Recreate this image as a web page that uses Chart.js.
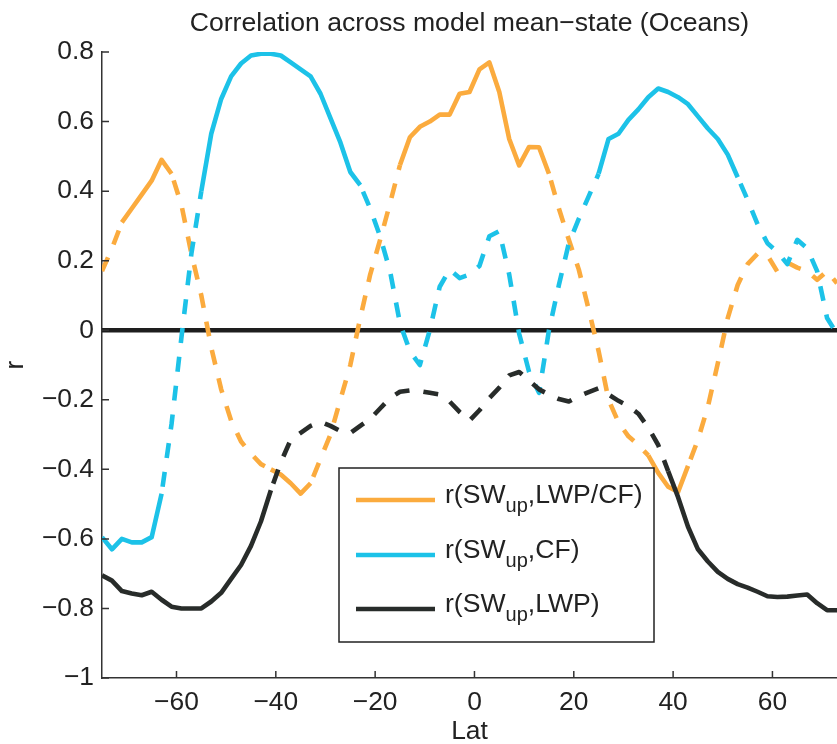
<!DOCTYPE html>
<html>
<head>
<meta charset="utf-8">
<title>Correlation across model mean-state (Oceans)</title>
<script src="https://cdn.jsdelivr.net/npm/chart.js@4.4.1/dist/chart.umd.min.js"></script>
<style>
  html, body { margin: 0; padding: 0; background: #fff; overflow: hidden; }
  #chart { display: block; }
</style>
</head>
<body>
<canvas id="chart" width="837" height="744"></canvas>
<script>
/* ===================== DATEN ===================== */

// Breitengrade (2°-Raster)
const lat = [-75, -73, -71, -69, -67, -65, -63, -61, -59, -57, -55, -53, -51, -49, -47, -45,
  -43, -41, -39, -37, -35, -33, -31, -29, -27, -25, -23, -21, -19, -17, -15, -13, -11, -9, -7,
  -5, -3, -1, 1, 3, 5, 7, 9, 11, 13, 15, 17, 19, 21, 23, 25, 27, 29, 31, 33, 35, 37, 39, 41,
  43, 45, 47, 49, 51, 53, 55, 57, 59, 61, 63, 65, 67, 69, 71, 73, 75];

// r(SWup, LWP/CF)
const rLwpCf = [0.17, 0.235, 0.31, 0.35, 0.39, 0.43, 0.49, 0.45, 0.36, 0.22, 0.10, -0.05,
  -0.17, -0.26, -0.32, -0.355, -0.385, -0.40, -0.415, -0.44, -0.47, -0.44, -0.37, -0.30,
  -0.20, -0.10, 0.035, 0.16, 0.26, 0.365, 0.475, 0.555, 0.585, 0.60, 0.62, 0.62, 0.68, 0.685,
  0.75, 0.77, 0.685, 0.55, 0.474, 0.527, 0.526, 0.45, 0.35, 0.26, 0.175, 0.06, -0.06, -0.20,
  -0.265, -0.305, -0.33, -0.36, -0.41, -0.45, -0.465, -0.39, -0.315, -0.22, -0.095, 0.035,
  0.13, 0.19, 0.22, 0.215, 0.168, 0.195, 0.18, 0.17, 0.145, 0.17, 0.135, 0.12];

// r(SWup, CF)
const rCf = [-0.595, -0.63, -0.60, -0.61, -0.61, -0.595, -0.47, -0.27, -0.02, 0.22, 0.40,
  0.565, 0.665, 0.73, 0.767, 0.79, 0.795, 0.795, 0.79, 0.77, 0.75, 0.73, 0.68, 0.61, 0.54,
  0.455, 0.417, 0.35, 0.27, 0.17, 0.02, -0.06, -0.10, 0.0, 0.125, 0.175, 0.15, 0.16, 0.185,
  0.27, 0.285, 0.16, -0.01, -0.12, -0.18, 0.0, 0.13, 0.25, 0.32, 0.385, 0.45, 0.55, 0.565,
  0.605, 0.635, 0.67, 0.695, 0.685, 0.67, 0.65, 0.615, 0.58, 0.55, 0.505, 0.44, 0.375, 0.305,
  0.25, 0.225, 0.19, 0.26, 0.235, 0.17, 0.035, -0.01, -0.04];

// r(SWup, LWP)
const rLwp = [-0.705, -0.72, -0.75, -0.757, -0.762, -0.752, -0.775, -0.795, -0.80, -0.80,
  -0.80, -0.78, -0.755, -0.715, -0.675, -0.62, -0.55, -0.46, -0.38, -0.315, -0.295, -0.275,
  -0.263, -0.275, -0.29, -0.296, -0.275, -0.255, -0.225, -0.195, -0.177, -0.173, -0.175,
  -0.18, -0.185, -0.205, -0.235, -0.26, -0.23, -0.195, -0.165, -0.13, -0.12, -0.145, -0.17,
  -0.185, -0.198, -0.205, -0.19, -0.178, -0.167, -0.185, -0.203, -0.218, -0.24, -0.28, -0.33,
  -0.405, -0.48, -0.565, -0.63, -0.665, -0.695, -0.715, -0.73, -0.74, -0.752, -0.765, -0.767,
  -0.766, -0.763, -0.76, -0.785, -0.805, -0.805, -0.805];

// Lat-Bereiche mit signifikanter Korrelation -> durchgezogen, sonst gestrichelt
const solidLwpCf = [[-71, -61], [-41, -33], [-15, 15], [35, 43]];
const solidCf = [[-75, -63], [-55, -23], [25, 53]];
const solidLwp = [[-75, -41], [39, 75]];

// Achsenbeschriftungen
const xTicks = [-60, -40, -20, 0, 20, 40, 60];
const xTickLabels = ['\u221260', '\u221240', '\u221220', '0', '20', '40', '60'];
const yTicks = [-1, -0.8, -0.6, -0.4, -0.2, 0, 0.2, 0.4, 0.6, 0.8];
const yTickLabels = ['\u22121', '\u22120.8', '\u22120.6', '\u22120.4', '\u22120.2', '0', '0.2', '0.4', '0.6', '0.8'];

// Legende: [Text, Index (tiefgestellt), Rest]
const legendLabels = [
  ['r(SW', 'up', ',LWP/CF)'],
  ['r(SW', 'up', ',CF)'],
  ['r(SW', 'up', ',LWP)']
];

/* ===================== STIL ===================== */
const FONT = '"Liberation Sans", Arial, Helvetica, sans-serif';
const TEXT = '#222';
const ORANGE = '#FBAB3E';
const CYAN = '#1CC2E8';
const DARK = '#282C2A';
const DASH = [15, 14];
const LW = 4.6;

// prüft, ob ein Segment komplett in einem "signifikanten" Bereich liegt
function inSolid(ranges, a, b) {
  return ranges.some(([lo, hi]) => a >= lo && b <= hi);
}

// Segment-Stil: gestrichelt ausserhalb der Bereiche, nach durchgezogenem Stück mit Lücke beginnen
function segmentStyle(ranges) {
  return {
    borderDash: ctx => inSolid(ranges, ctx.p0.parsed.x, ctx.p1.parsed.x) ? [] : DASH,
    borderDashOffset: ctx => {
      const x0 = ctx.p0.parsed.x;
      if (inSolid(ranges, x0, ctx.p1.parsed.x)) return 0;
      const afterSolid = ranges.some(([lo, hi]) => hi <= x0);
      return afterSolid ? DASH[0] + 7 : 0;
    }
  };
}

function toPoints(values) {
  return lat.map((x, i) => ({ x: x, y: values[i] }));
}

// Innenliegende Tickmarken + Legende (wie MATLAB)
const matlabDeko = {
  id: 'matlabDeko',
  afterDraw(chart) {
    const { ctx, chartArea: a, scales: { x, y } } = chart;
    ctx.save();

    // Tickmarken
    ctx.strokeStyle = '#333';
    ctx.lineWidth = 1.5;
    ctx.beginPath();
    yTicks.forEach(v => {
      const py = y.getPixelForValue(v);
      ctx.moveTo(a.left, py);
      ctx.lineTo(a.left + 7, py);
    });
    xTicks.forEach(v => {
      const px = x.getPixelForValue(v);
      ctx.moveTo(px, a.bottom);
      ctx.lineTo(px, a.bottom - 7);
    });
    ctx.stroke();

    // Legende
    const box = { left: 339, top: 468, width: 315, height: 174 };
    ctx.fillStyle = '#fff';
    ctx.fillRect(box.left, box.top, box.width, box.height);
    ctx.strokeStyle = '#222';
    ctx.lineWidth = 1.5;
    ctx.strokeRect(box.left, box.top, box.width, box.height);

    const colors = [ORANGE, CYAN, DARK];
    const rows = [500, 555, 609];
    legendLabels.forEach((parts, i) => {
      const yy = rows[i];
      ctx.strokeStyle = colors[i];
      ctx.lineWidth = LW;
      ctx.beginPath();
      ctx.moveTo(356, yy);
      ctx.lineTo(435, yy);
      ctx.stroke();

      ctx.fillStyle = TEXT;
      ctx.textBaseline = 'alphabetic';
      ctx.textAlign = 'left';
      let tx = 445;
      ctx.font = '26.6px ' + FONT;
      ctx.fillText(parts[0], tx, yy + 3);
      tx += ctx.measureText(parts[0]).width;
      ctx.font = '20px ' + FONT;
      ctx.fillText(parts[1], tx, yy + 12);
      tx += ctx.measureText(parts[1]).width;
      ctx.font = '26.6px ' + FONT;
      ctx.fillText(parts[2], tx, yy + 3);
    });

    ctx.restore();
  }
};

/* ===================== CHART ===================== */
new Chart(document.getElementById('chart').getContext('2d'), {
  type: 'line',
  data: {
    datasets: [
      {
        label: 'r(SWup,LWP)',
        data: toPoints(rLwp),
        borderColor: DARK,
        borderWidth: LW,
        segment: segmentStyle(solidLwp)
      },
      {
        label: 'r(SWup,CF)',
        data: toPoints(rCf),
        borderColor: CYAN,
        borderWidth: LW,
        segment: segmentStyle(solidCf)
      },
      {
        label: 'r(SWup,LWP/CF)',
        data: toPoints(rLwpCf),
        borderColor: ORANGE,
        borderWidth: LW,
        segment: segmentStyle(solidLwpCf)
      },
      {
        // Nulllinie
        label: 'zero',
        data: toPoints(lat.map(() => 0)),
        borderColor: '#1E1E1E',
        borderWidth: 4.6
      }
    ]
  },
  options: {
    responsive: false,
    animation: false,
    layout: { padding: { left: 0, right: 0, top: 0, bottom: 0 } },
    elements: {
      point: { radius: 0 },
      line: { tension: 0, borderCapStyle: 'butt', borderJoinStyle: 'round' }
    },
    plugins: {
      legend: { display: false },
      tooltip: { enabled: false },
      title: {
        display: true,
        fullSize: false,
        text: 'Correlation across model mean\u2212state (Oceans)',
        color: TEXT,
        font: { family: FONT, size: 26.6, weight: 'normal' },
        padding: { top: 7.5, bottom: 12.6 }
      }
    },
    scales: {
      x: {
        type: 'linear',
        min: -75,
        max: 73,
        afterBuildTicks: s => { s.ticks = xTicks.map(v => ({ value: v })); },
        afterFit: s => { s.height = 66; },
        grid: { display: false, drawTicks: false },
        border: { display: true, color: '#333', width: 1.5 },
        ticks: {
          color: TEXT,
          padding: 9,
          maxRotation: 0,
          font: { family: FONT, size: 26.4 },
          callback: (v, i) => xTickLabels[i]
        },
        title: {
          display: true,
          text: 'Lat',
          color: TEXT,
          font: { family: FONT, size: 26.4 },
          padding: { top: 0, bottom: -4 }
        }
      },
      y: {
        min: -1,
        max: 0.8,
        afterBuildTicks: s => { s.ticks = yTicks.map(v => ({ value: v })); },
        afterFit: s => { s.width = 102; },
        grid: { display: false, drawTicks: false },
        border: { display: true, color: '#333', width: 1.5 },
        ticks: {
          color: TEXT,
          padding: 8,
          font: { family: FONT, size: 26.4 },
          callback: (v, i) => yTickLabels[i]
        },
        title: {
          display: true,
          text: 'r',
          color: TEXT,
          font: { family: FONT, size: 26.4 },
          padding: { top: 0, bottom: 0 }
        }
      }
    }
  },
  plugins: [matlabDeko]
});
</script>
</body>
</html>
